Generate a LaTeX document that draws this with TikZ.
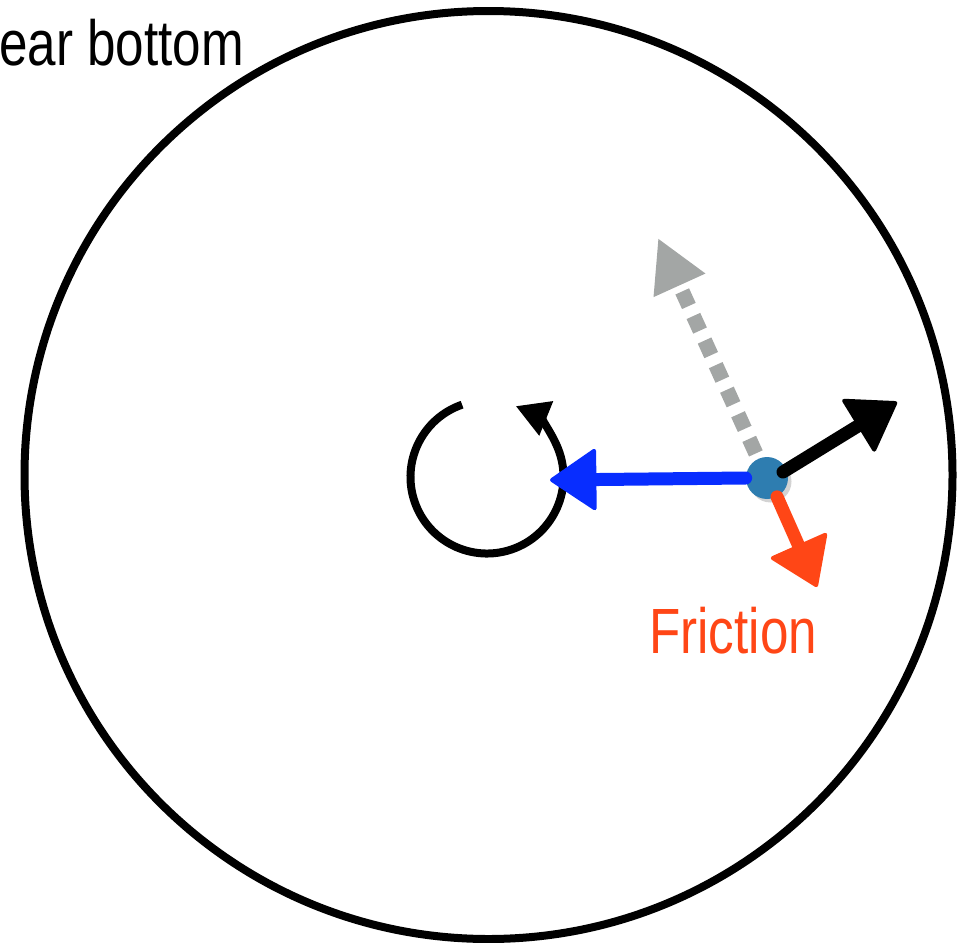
\documentclass[tikz,border=0pt]{standalone}
\usepackage{fontspec}
\setmainfont{Liberation Sans}
\usetikzlibrary{arrows.meta,shadows,calc}
\definecolor{fuerzaazul}{RGB}{8,45,255}
\definecolor{friccion}{RGB}{255,70,22}
\definecolor{grisguia}{RGB}{163,166,165}
\definecolor{puntoazul}{RGB}{46,125,176}
\tikzset{
    disco/.style={
        draw=black,               % borde negro del disco
        line width=1.6mm          % trazo grueso
    },
    giro/.style={
        draw=black,
        line width=1.6mm,
        -{Triangle[length=6.6mm,width=7mm]} % punta del sentido de giro
    },
    fuerza/.style={
        draw=#1,                  % color de la fuerza
        line width=2.6mm,
        line cap=round,           % extremo redondeado, como a mano
        -{Triangle[round,line width=0.8mm,length=9.6mm,width=12.8mm,fill=#1]}
    },
    guia/.style={
        draw=grisguia,
        line width=3mm,
        dash pattern=on 3.2mm off 2.2mm, % trazos cuadrados
        -{Triangle[length=10.4mm,width=10.6mm,fill=grisguia]}
    },
    punto/.style={
        circle,
        fill=puntoazul,
        minimum size=8.4mm,
        inner sep=0pt,
        drop shadow={opacity=0.35,shadow xshift=0.7mm,shadow yshift=-0.7mm}
    },
    rotulo/.style={
        font=\fontsize{36.4}{40}\selectfont,
        xscale=0.8,               % letra algo estrecha
        inner sep=0pt,
        anchor=base west
    }
}
\begin{document}
\begin{tikzpicture}[x=0.02cm,y=0.02cm]
    \useasboundingbox (0,0) rectangle (960,-943);

    \draw[disco] (488.5,-475) circle[radius=464];
    \node[rotulo] (titulo) at (-1,-65) {ear bottom};

    % sentido de giro
    \coordinate (eje) at (487,-477);
    \draw[giro] ($(eje)+(109:76.5)$) arc[start angle=109,end angle=428,radius=76.5];

    % fuerzas sobre el punto
    \coordinate (p) at (767,-478);
    \coordinate (guiafin) at (658,-238);
    \coordinate (centrofin) at (550,-480);
    \coordinate (empuje) at (897,-402);
    \coordinate (frenado) at (817,-587);

    \draw[guia] (p) -- (guiafin);
    \node[punto] (punto) at (p) {};
    \draw[fuerza=fuerzaazul] (punto.west) -- (centrofin);
    \draw[fuerza=black] ($(punto.center)+(16,6)$) -- (empuje);
    \draw[fuerza=friccion] (punto.-62) -- (frenado);

    \node[rotulo,text=friccion] (frictxt) at (649,-653) {Friction};
\end{tikzpicture}
\end{document}
